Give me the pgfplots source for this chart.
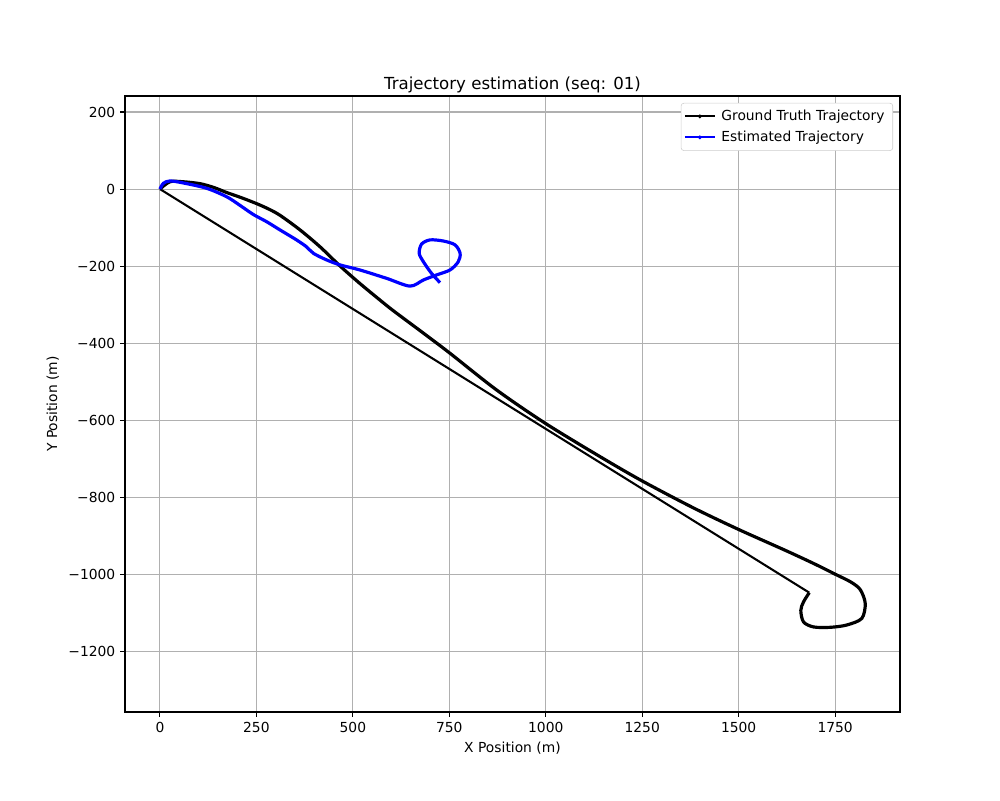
\documentclass[border=0pt]{standalone}
\usepackage{pgfplots}
\pgfplotsset{compat=1.18}
\usepackage{fontspec}
\setmainfont{DejaVu Sans}
\definecolor{gridgray}{HTML}{B0B0B0}
\definecolor{mplblue}{HTML}{0000FF}
\begin{document}
\begin{tikzpicture}
\begin{axis}[
  scale only axis,
  width=560.1pt, height=445.2pt,
  xmin=-90.7, xmax=1918,
  ymin=-1358, ymax=241.6,
  xtick={0,250,500,750,1000,1250,1500,1750},
  ytick={-1200,-1000,-800,-600,-400,-200,0,200},
  yticklabels={−1200,−1000,−800,−600,−400,−200,0,200},
  /pgf/number format/assume math mode=true,
  /pgf/number format/1000 sep={},
  tick label style={font=\fontsize{10}{12}\selectfont},
  label style={font=\fontsize{10}{12}\selectfont},
  title style={font=\fontsize{12}{14}\selectfont, yshift=-7pt},
  title={Trajectory estimation (seq: 01)},
  xlabel={X Position (m)},
  ylabel={Y Position (m)},
  grid=major,
  major grid style={gridgray, line width=0.8pt},
  axis line style={line width=0.8pt},
  tick style={black, line width=0.8pt},
  tick align=outside,
  major tick length=3.5pt,
  xtick pos=bottom, ytick pos=left,
  legend style={at={(1,1)}, anchor=north east, xshift=-5pt, yshift=-5pt,
    draw=black!20, rounded corners=2pt, font=\fontsize{10}{12}\selectfont,
    inner xsep=2pt, inner ysep=3pt, row sep=2pt,
    nodes={inner xsep=4pt}},
  legend image code/.code={\draw[#1] (0cm,0cm) -- (0.76cm,0cm); \fill[#1] (0.38cm,0cm) circle (0.5pt);},
  legend cell align=left,
]
\addlegendimage{black, line width=1.5pt}
\addlegendimage{mplblue, line width=1.5pt}
\addplot[black, line width=2.3pt, smooth, tension=0.5, forget plot] coordinates {
(0,0) (26,19) (60,19) (104,14) (140,4) (173,-9) (210,-22) (251,-38) (282,-52) (311,-68)
(363,-106) (415,-150) (467,-200) (518,-245) (570,-288) (605,-316) (680,-372) (750,-425)
(873,-522) (1000,-609) (1141,-695) (1250,-758) (1383,-828) (1500,-884)
(1625,-940) (1700,-975) (1750,-1000) (1790,-1020) (1815,-1040) (1828,-1076) (1819,-1115) (1780,-1132)
(1737,-1138) (1694,-1137) (1668,-1124) (1661,-1094) (1668,-1072) (1683,-1048)
};
\addplot[black, line width=1.5pt, forget plot] coordinates {(1683,-1048) (0,0)};
\addplot[mplblue, line width=2.3pt, smooth, tension=0.5, forget plot] coordinates {
(0,0) (9,15) (26,21) (60,16) (121,2) (173,-20) (207,-42) (242,-66) (277,-85) (311,-106)
(354,-132) (380,-150) (398,-167) (432,-184) (467,-197) (518,-210) (588,-232) (648,-252)
(683,-236) (717,-223) (752,-210) (773,-189) (778,-167) (765,-145) (735,-135) (700,-132)
(678,-143) (672,-167) (683,-189) (704,-219) (726,-243)
};
\legend{Ground Truth Trajectory, Estimated Trajectory}
\end{axis}
\path[use as bounding box] ([shift={(-90.3pt,-63.6pt)}]current axis.south west) rectangle ([shift={(72.3pt,69.4pt)}]current axis.north east);
\end{tikzpicture}
\end{document}
